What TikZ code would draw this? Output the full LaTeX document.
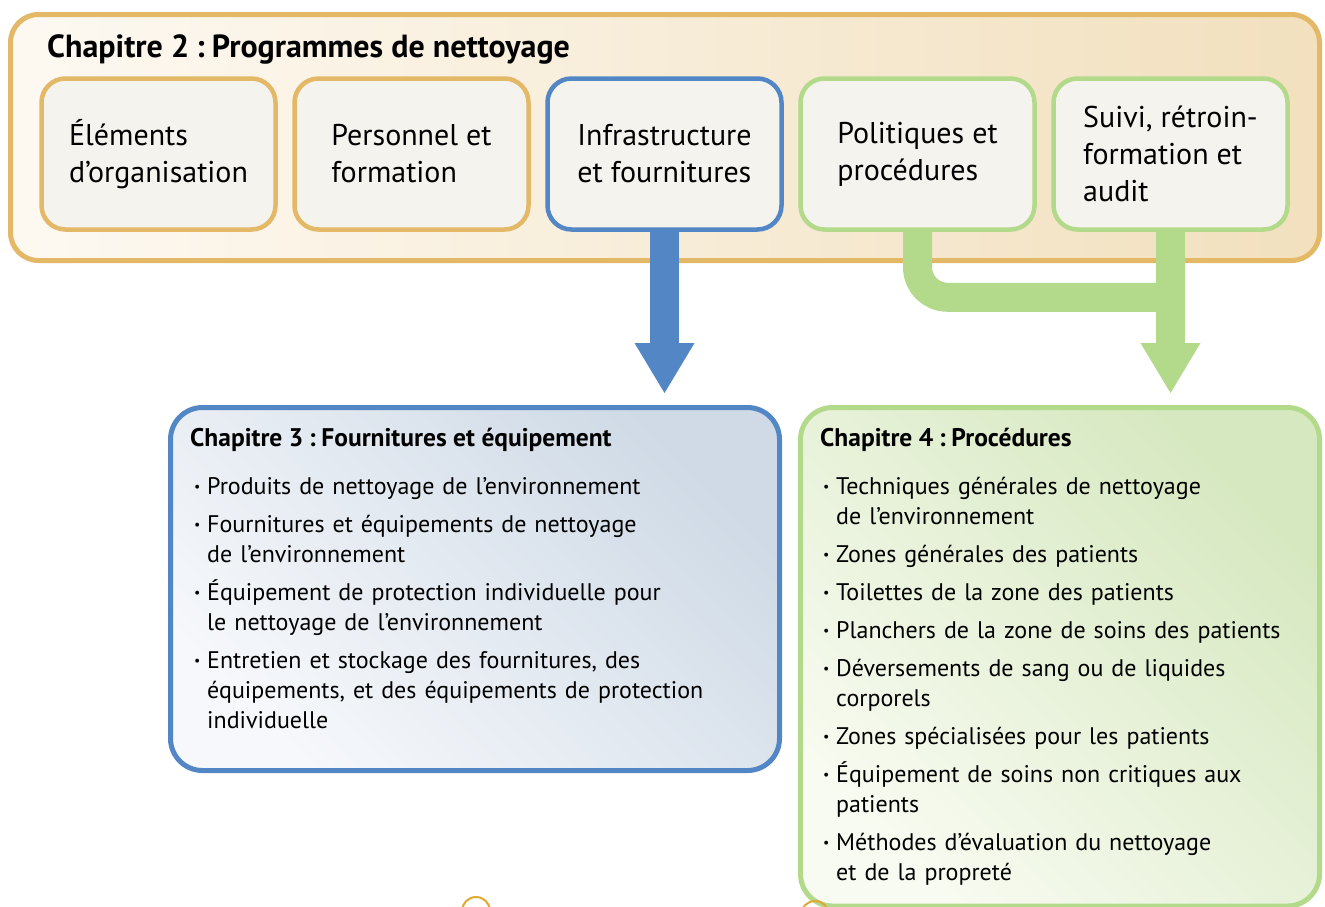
\documentclass[tikz,border=0pt]{standalone}
\usepackage{fontspec}
\setmainfont{PT Sans}
\usepackage{tikz}
\usetikzlibrary{
  arrows.meta,
  positioning
}
\definecolor{frameGold}{HTML}{E3B867}
\definecolor{goldLight}{HTML}{FDF9F2}
\definecolor{goldDark}{HTML}{F2E0BE}
\definecolor{subjectFill}{HTML}{F4F3EE}
\definecolor{supplyBlue}{HTML}{5286C5}
\definecolor{blueLight}{HTML}{F6F8FB}
\definecolor{blueDark}{HTML}{CFDAE6}
\definecolor{procGreen}{HTML}{B3D98B}
\definecolor{greenLight}{HTML}{F8FBF1}
\definecolor{greenDark}{HTML}{D6E8C0}
\definecolor{pageMark}{HTML}{E2A833}
\newcommand\litem[1]{\hangindent=12pt\hangafter=1\noindent\strut
  \makebox[12pt][l]{\kern-1pt\raisebox{2.5pt}{\fontsize{14}{14}\selectfont\textbullet}}#1\par}

\begin{document}
\begin{tikzpicture}[
  x=1pt, y=-1pt,
  every node/.style={inner sep=0pt},
  chapter/.style={
    draw,
    rounded corners=28pt,
    line width=5pt,
  },
  subject/.style={
    draw,
    fill=subjectFill,
    rounded corners=24pt,
    line width=4.5pt,
    minimum width=234pt,
    minimum height=151pt,
    align=left,
    font=\fontsize{30}{37}\selectfont,
  },
  heading/.style={
    anchor=base west,
    font=\bfseries\fontsize{25.5}{29}\selectfont,
  },
  listing/.style={
    anchor=north west,
    align=left,
    font=\fontsize{24}{30}\selectfont\setlength\parskip{8pt},
  },
  flow/.style={
    line width=29pt,
  },
  flowtip/.style={
    -{Triangle[width=60pt,length=50pt,line width=0pt]},
    shorten >=12pt,
  }
]
\useasboundingbox (0,0) rectangle (1325,906);

% chapitre 2
\node[chapter, draw=frameGold, left color=goldLight, right color=goldDark,
  minimum width=1309pt, minimum height=246pt] (prog) at (665,137.5) {};
\node[heading, font=\bfseries\fontsize{32}{36}\selectfont] (progTitle) at (47,57)
  {Chapitre 2\kern.22em:\kern.22em Programmes de nettoyage};
\foreach \k/\name/\col/\txt in {
  0/org/frameGold/{Éléments\\d’organisation},
  1/pers/frameGold/{Personnel et\\formation},
  2/infra/supplyBlue/{Infrastructure\\et fournitures},
  3/pol/procGreen/{Politiques et\\procédures},
  4/suivi/procGreen/{Suivi, rétroin-\\formation et\\audit}} {
  \node[subject, draw=\col] (\name) at (158.5+253*\k,154) {\txt};
}

% chapitres 3 et 4
\node[chapter, draw=supplyBlue, rounded corners=32pt, top color=blueDark,
  bottom color=blueLight, shading angle=-45,
  minimum width=609pt, minimum height=363pt] (ch3) at (475,589) {};
\node[chapter, draw=procGreen, rounded corners=32pt, top color=greenDark,
  bottom color=greenLight, shading angle=-45,
  minimum width=519pt, minimum height=498.5pt] (ch4) at (1060,656.75) {};

\node[heading] (ch3Title) at (190,446) {Chapitre 3\kern.22em:\kern.22em Fournitures et équipement};
\node[listing, text width=560pt] (ch3List) at (195,473) {%
  \litem{Produits de nettoyage de l’environnement}
  \litem{Fournitures et équipements de nettoyage\newline de l’environnement}
  \litem{Équipement de protection individuelle pour\newline le nettoyage de l’environnement}
  \litem{Entretien et stockage des fournitures, des\newline équipements, et des équipements de protection\newline individuelle}};

\node[heading] (ch4Title) at (820,446) {Chapitre 4\kern.22em:\kern.22em Procédures};
\node[listing, text width=480pt] (ch4List) at (824,473) {%
  \litem{Techniques générales de nettoyage\newline de l’environnement}
  \litem{Zones générales des patients}
  \litem{Toilettes de la zone des patients}
  \litem{Planchers de la zone de soins des patients}
  \litem{Déversements de sang ou de liquides\newline corporels}
  \litem{Zones spécialisées pour les patients}
  \litem{Équipement de soins non critiques aux\newline patients}
  \litem{Méthodes d’évaluation du nettoyage\newline et de la propreté}};

% fleches
\coordinate (merge) at ([yshift=-65.5pt]suivi.south);
\draw[flow, draw=supplyBlue, fill=supplyBlue, flowtip] (infra.south) -- (ch3.north -| infra.south);
\draw[flow, draw=procGreen, rounded corners=30pt] (pol.south) |- (merge);
\draw[flow, draw=procGreen, fill=procGreen, flowtip] (suivi.south) -- (ch4.north -| suivi.south);

% reperes de page
\draw[pageMark, line width=2pt] (476,911) circle[radius=14pt];
\draw[pageMark, line width=2pt] (815,915) circle[radius=14pt];
\end{tikzpicture}
\end{document}
